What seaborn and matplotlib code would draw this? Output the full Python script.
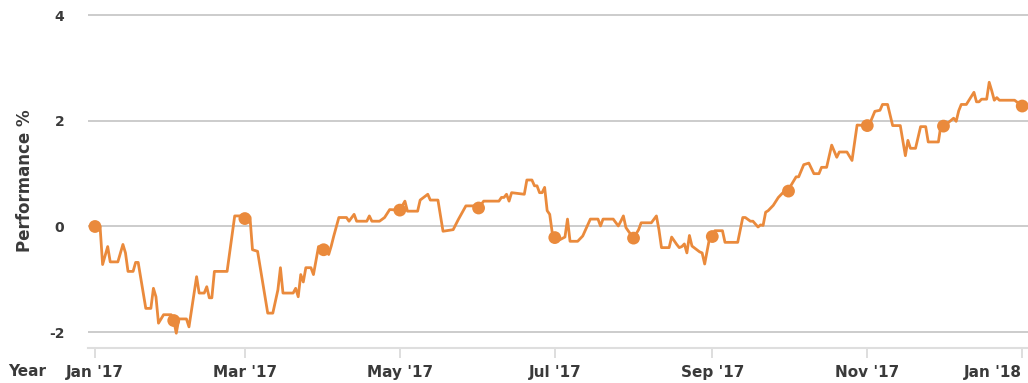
import matplotlib
matplotlib.use("Agg")
import matplotlib.pyplot as plt
import seaborn as sns
import pandas as pd

# ---------------- data ----------------
dates = [
    "2017-01-01", "2017-01-03", "2017-01-04", "2017-01-06", "2017-01-07", "2017-01-10", "2017-01-12",
    "2017-01-13", "2017-01-14", "2017-01-16", "2017-01-17", "2017-01-18", "2017-01-21", "2017-01-23",
    "2017-01-24", "2017-01-25", "2017-01-26", "2017-01-28", "2017-01-31",
    "2017-02-01", "2017-02-02", "2017-02-03", "2017-02-06", "2017-02-07", "2017-02-10", "2017-02-11",
    "2017-02-13", "2017-02-14", "2017-02-15", "2017-02-16", "2017-02-17", "2017-02-22", "2017-02-25",
    "2017-02-28",
    "2017-03-01", "2017-03-03", "2017-03-04", "2017-03-06", "2017-03-10", "2017-03-12", "2017-03-14",
    "2017-03-15", "2017-03-16", "2017-03-20", "2017-03-21", "2017-03-22", "2017-03-23", "2017-03-24",
    "2017-03-25", "2017-03-27", "2017-03-28", "2017-03-30",
    "2017-04-01", "2017-04-02", "2017-04-03", "2017-04-04", "2017-04-05", "2017-04-07", "2017-04-10",
    "2017-04-11", "2017-04-13", "2017-04-14", "2017-04-18", "2017-04-19", "2017-04-20", "2017-04-23",
    "2017-04-25", "2017-04-27",
    "2017-05-01", "2017-05-03", "2017-05-04", "2017-05-08", "2017-05-09", "2017-05-12", "2017-05-13",
    "2017-05-16", "2017-05-18", "2017-05-22", "2017-05-24", "2017-05-27", "2017-05-31",
    "2017-06-01", "2017-06-03", "2017-06-09", "2017-06-10", "2017-06-11", "2017-06-12", "2017-06-13",
    "2017-06-14", "2017-06-19", "2017-06-20", "2017-06-22", "2017-06-23", "2017-06-24", "2017-06-25",
    "2017-06-26", "2017-06-27", "2017-06-28", "2017-06-29", "2017-06-30",
    "2017-07-01", "2017-07-03", "2017-07-05", "2017-07-06", "2017-07-07", "2017-07-10", "2017-07-12",
    "2017-07-15", "2017-07-18", "2017-07-19", "2017-07-20", "2017-07-24", "2017-07-26", "2017-07-27",
    "2017-07-28", "2017-07-29", "2017-07-30",
    "2017-08-01", "2017-08-03", "2017-08-04", "2017-08-08", "2017-08-10", "2017-08-11", "2017-08-12",
    "2017-08-15", "2017-08-16", "2017-08-18", "2017-08-19", "2017-08-20", "2017-08-21", "2017-08-22",
    "2017-08-23", "2017-08-24", "2017-08-27", "2017-08-28", "2017-08-29", "2017-08-31",
    "2017-09-01", "2017-09-02", "2017-09-05", "2017-09-06", "2017-09-11", "2017-09-13", "2017-09-14",
    "2017-09-16", "2017-09-17", "2017-09-19", "2017-09-20", "2017-09-21", "2017-09-22", "2017-09-23",
    "2017-09-25", "2017-09-27", "2017-09-29",
    "2017-10-01", "2017-10-02", "2017-10-04", "2017-10-05", "2017-10-07", "2017-10-09", "2017-10-11",
    "2017-10-13", "2017-10-14", "2017-10-16", "2017-10-18", "2017-10-20", "2017-10-21", "2017-10-24",
    "2017-10-26", "2017-10-28",
    "2017-11-01", "2017-11-02", "2017-11-04", "2017-11-06", "2017-11-07", "2017-11-09", "2017-11-11",
    "2017-11-14", "2017-11-16", "2017-11-17", "2017-11-18", "2017-11-20", "2017-11-22", "2017-11-24",
    "2017-11-25", "2017-11-29", "2017-11-30",
    "2017-12-01", "2017-12-03", "2017-12-05", "2017-12-06", "2017-12-07", "2017-12-08", "2017-12-10",
    "2017-12-13", "2017-12-14", "2017-12-15", "2017-12-16", "2017-12-18", "2017-12-19", "2017-12-20",
    "2017-12-21", "2017-12-22", "2017-12-23", "2017-12-29",
    "2018-01-01",
]
perf = [
    0.00, 0.00, -0.72, -0.38, -0.67, -0.67, -0.34,
    -0.50, -0.85, -0.85, -0.68, -0.68, -1.55, -1.55,
    -1.17, -1.33, -1.83, -1.67, -1.67,
    -1.78, -2.02, -1.75, -1.75, -1.90, -0.95, -1.26,
    -1.26, -1.14, -1.35, -1.35, -0.85, -0.85, 0.20,
    0.20,
    0.15, 0.18, -0.44, -0.47, -1.64, -1.64, -1.20,
    -0.78, -1.26, -1.26, -1.17, -1.33, -0.91, -1.05,
    -0.78, -0.78, -0.91, -0.38,
    -0.44, -0.40, -0.53, -0.37, -0.18, 0.17, 0.17,
    0.10, 0.23, 0.10, 0.10, 0.20, 0.10, 0.10,
    0.17, 0.32,
    0.31, 0.48, 0.29, 0.29, 0.50, 0.61, 0.50,
    0.50, -0.09, -0.06, 0.13, 0.39, 0.39,
    0.35, 0.48, 0.48, 0.55, 0.55, 0.61, 0.48,
    0.64, 0.61, 0.88, 0.88, 0.77, 0.77, 0.64,
    0.64, 0.74, 0.30, 0.23, -0.12,
    -0.21, -0.25, -0.20, 0.14, -0.28, -0.28, -0.18,
    0.14, 0.14, 0.01, 0.14, 0.14, 0.01, 0.10,
    0.20, -0.02, -0.09,
    -0.22, -0.06, 0.07, 0.07, 0.20, -0.06, -0.40,
    -0.40, -0.20, -0.34, -0.40, -0.38, -0.33, -0.50,
    -0.17, -0.37, -0.48, -0.50, -0.71, -0.20,
    -0.19, -0.08, -0.08, -0.30, -0.30, 0.17, 0.17,
    0.10, 0.10, -0.01, 0.03, 0.02, 0.27, 0.30,
    0.40, 0.55, 0.65,
    0.67, 0.78, 0.94, 0.94, 1.17, 1.20, 1.00,
    1.00, 1.12, 1.12, 1.54, 1.31, 1.41, 1.41,
    1.25, 1.92,
    1.91, 1.95, 2.18, 2.20, 2.31, 2.31, 1.91,
    1.91, 1.34, 1.63, 1.48, 1.48, 1.89, 1.89,
    1.60, 1.60, 1.92,
    1.90, 1.97, 2.05, 1.99, 2.19, 2.31, 2.31,
    2.54, 2.36, 2.36, 2.41, 2.41, 2.73, 2.57,
    2.39, 2.44, 2.39, 2.39,
    2.28,
]
marker_dates = [
    "2017-01-01", "2017-02-01", "2017-03-01", "2017-04-01", "2017-05-01", "2017-06-01", "2017-07-01",
    "2017-08-01", "2017-09-01", "2017-10-01", "2017-11-01", "2017-12-01", "2018-01-01",
]
tick_dates = ["2017-01-01", "2017-03-01", "2017-05-01", "2017-07-01", "2017-09-01", "2017-11-01", "2018-01-01"]
tick_labels = ["Jan '17", "Mar '17", "May '17", "Jul '17", "Sep '17", "Nov '17", "Jan '18"]
y_ticks = [-2, 0, 2, 4]
y_label = "Performance %"
x_label = "Year"

# ---------------- styling ----------------
ORANGE = "#EA8A3C"
TEXT = "#3a3a3a"
GRID = "#c4c4c4"

sns.set_theme(style="white")
plt.rcParams["font.family"] = ["DejaVu Sans"]

df = pd.DataFrame({"date": pd.to_datetime(dates), "perf": perf})
mk = df[df["date"].isin(pd.to_datetime(marker_dates))]

W, H = 1028, 383
fig = plt.figure(figsize=(W / 100, H / 100), dpi=100)
ax = fig.add_axes([88 / W, (H - 348) / H, (1040 - 88) / W, (348 - 12) / H])

sns.lineplot(data=df, x="date", y="perf", color=ORANGE, lw=2.0, ax=ax, zorder=3)
sns.scatterplot(data=mk, x="date", y="perf", color=ORANGE, s=85, edgecolor="none",
                ax=ax, zorder=4, legend=False)

start = pd.Timestamp("2017-01-01")
ax.set_xlim(start - pd.Timedelta(days=2.75), start + pd.Timedelta(days=372))
ax.set_ylim(-2.3, 4.06)

ax.set_yticks(y_ticks)
ax.set_yticklabels([str(v) for v in y_ticks], fontweight="bold", color=TEXT, fontsize=10)
ax.set_xticks(pd.to_datetime(tick_dates))
ax.set_xticklabels(tick_labels, fontweight="bold", color=TEXT, fontsize=11)
# the last label sits at the right edge of the figure: align it to the right so it stays visible
ax.get_xticklabels()[-1].set_horizontalalignment("right")
ax.get_xticklabels()[-1].set_x(0)

ax.yaxis.grid(True, color=GRID, lw=1.2)
ax.xaxis.grid(False)
ax.set_axisbelow(True)
for s in ["top", "right", "left"]:
    ax.spines[s].set_visible(False)
ax.spines["bottom"].set_color("#dedede")
ax.spines["bottom"].set_linewidth(1.5)

ax.tick_params(axis="x", direction="out", length=7, width=1.2, color="#d8d8d8", pad=5, bottom=True)
ax.tick_params(axis="y", length=0, pad=17)

ax.set_xlabel("")
ax.set_ylabel("")
fig.text(25.5 / W, (H - 180.5) / H, y_label, rotation=90, ha="center", va="center",
         fontsize=12, fontweight="bold", color=TEXT)
fig.text(8 / W, (H - 371) / H, x_label, ha="left", va="center",
         fontsize=11, fontweight="bold", color=TEXT)

fig.savefig("out.png", dpi=100)
